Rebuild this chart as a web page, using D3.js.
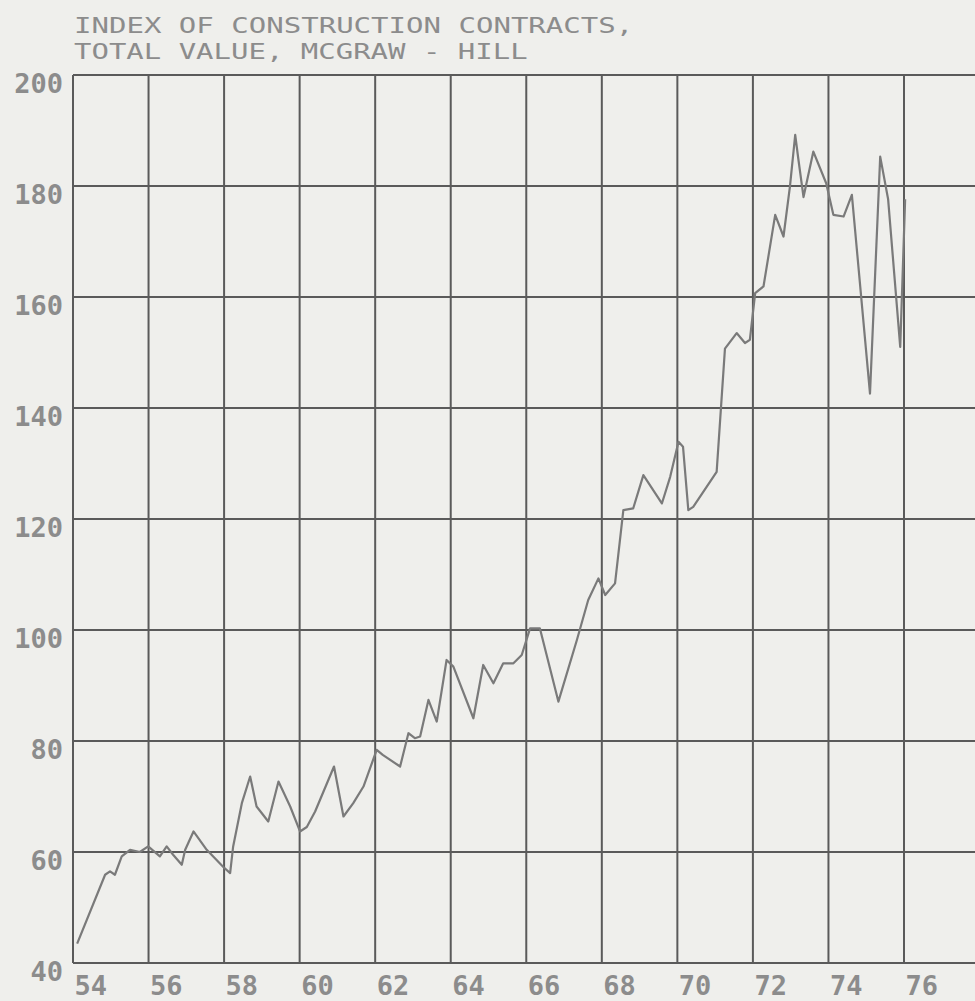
<!DOCTYPE html>
<html>
<head>
<meta charset="utf-8">
<script src="https://cdn.jsdelivr.net/npm/d3@7"></script>
<style>
  html, body { margin: 0; padding: 0; background: #efefec; }
  svg { display: block; }
  text { font-family: "DejaVu Sans Mono", "Liberation Mono", monospace; fill: #8c8c8c; }
</style>
</head>
<body>
<svg id="chart" width="975" height="1001"></svg>
<script>
// McGraw-Hill index of construction contracts, total value (decimal year, index)
const dates = [
  54.11, 54.85, 54.98, 55.11, 55.29, 55.51, 55.77, 55.99, 56.30, 56.48,
  56.65, 56.88, 56.97, 57.19, 57.54, 57.98, 58.16, 58.24, 58.47, 58.69,
  58.86, 59.17, 59.44, 59.75, 60.01, 60.19, 60.41, 60.91, 61.16, 61.42,
  61.69, 62.04, 62.20, 62.66, 62.88, 63.05, 63.19, 63.41, 63.63, 63.89,
  64.07, 64.60, 64.86, 65.13, 65.39, 65.66, 65.88, 66.10, 66.36, 66.85,
  67.34, 67.64, 67.91, 68.09, 68.35, 68.57, 68.83, 69.10, 69.59, 69.81,
  70.03, 70.15, 70.29, 70.42, 71.04, 71.26, 71.57, 71.79, 71.92, 72.06,
  72.28, 72.59, 72.81, 72.98, 73.12, 73.20, 73.34, 73.60, 73.94, 74.13,
  74.40, 74.62, 75.10, 75.37, 75.58, 75.90, 76.03
];
const index = [
  43.5, 55.9, 56.5, 55.9, 59.2, 60.4, 60.0, 61.0, 59.2, 61.0,
  59.5, 57.7, 60.4, 63.7, 60.4, 57.3, 56.2, 61.0, 68.8, 73.6,
  68.2, 65.5, 72.7, 68.2, 63.7, 64.5, 67.3, 75.4, 66.4, 68.8,
  71.8, 78.4, 77.5, 75.4, 81.4, 80.5, 80.8, 87.4, 83.5, 94.6,
  93.4, 84.1, 93.7, 90.4, 94.0, 94.0, 95.5, 100.3, 100.3, 87.1,
  98.2, 105.4, 109.3, 106.3, 108.4, 121.6, 121.9, 127.9, 122.8, 127.6,
  133.9, 133.0, 121.6, 122.2, 128.5, 150.7, 153.5, 151.7, 152.3, 160.7,
  161.9, 174.8, 170.9, 179.9, 189.2, 185.0, 178.0, 186.2, 180.5, 174.8,
  174.5, 178.4, 142.6, 185.3, 177.6, 151.0, 177.6
];
const yearTicks = [54, 56, 58, 60, 62, 64, 66, 68, 70, 72, 74, 76];
const valueTicks = [40, 60, 80, 100, 120, 140, 160, 180, 200];
const titleLines = ["INDEX OF CONSTRUCTION CONTRACTS,", "TOTAL VALUE, MCGRAW - HILL"];

const svg = d3.select("#chart");
const x = d3.scaleLinear().domain([54, 76]).range([73, 904]);
const y = d3.scaleLinear().domain([40, 200]).range([963, 75]);
const xRight = 975;
const charAdvance = 17.6;

// two-line title in a wide typewriter face
svg.selectAll("text.title").data(titleLines).join("text")
  .attr("class", "title")
  .attr("x", 74)
  .attr("y", (d, i) => 33 + i * 26)
  .attr("font-size", 22)
  .attr("fill", "#969696")
  .attr("textLength", d => d.length * charAdvance - 4)
  .attr("lengthAdjust", "spacingAndGlyphs")
  .text(d => d);

// grid
const grid = svg.append("g").attr("stroke", "#5a5a5a").attr("stroke-width", 2).attr("fill", "none");
grid.selectAll("line.v").data(yearTicks).join("line")
  .attr("x1", d => x(d)).attr("x2", d => x(d))
  .attr("y1", y(200)).attr("y2", y(40));
grid.selectAll("line.h").data(valueTicks).join("line")
  .attr("x1", x(54)).attr("x2", xRight)
  .attr("y1", d => y(d)).attr("y2", d => y(d));

// axes labels
const yAxis = d3.axisLeft(y).tickValues(valueTicks).tickSize(0).tickPadding(10);
const gy = svg.append("g").attr("transform", `translate(${x(54)},0)`).call(yAxis);
gy.select(".domain").remove();
gy.selectAll("text")
  .attr("font-size", 27)
  .attr("fill", "#8c8c8c")
  .attr("font-family", "DejaVu Sans Mono, monospace")
  .attr("font-weight", "bold")
  .attr("dy", "0.66em");

const xAxis = d3.axisBottom(x).tickValues(yearTicks).tickSize(0).tickPadding(8).tickFormat(d3.format("d"));
const gx = svg.append("g").attr("transform", `translate(0,${y(40)})`).call(xAxis);
gx.select(".domain").remove();
gx.selectAll("text")
  .attr("font-size", 27)
  .attr("fill", "#8c8c8c")
  .attr("font-family", "DejaVu Sans Mono, monospace")
  .attr("font-weight", "bold")
  .attr("text-anchor", "start")
  .attr("dx", 1)
  .attr("dy", "0.9em");

// series
const line = d3.line().x(d => x(d[0])).y(d => y(d[1]));
svg.append("path")
  .datum(dates.map((d, i) => [d, index[i]]))
  .attr("d", line)
  .attr("fill", "none")
  .attr("stroke", "#7a7a7a")
  .attr("stroke-width", 2.2)
  .attr("stroke-linejoin", "round");
</script>
</body>
</html>
